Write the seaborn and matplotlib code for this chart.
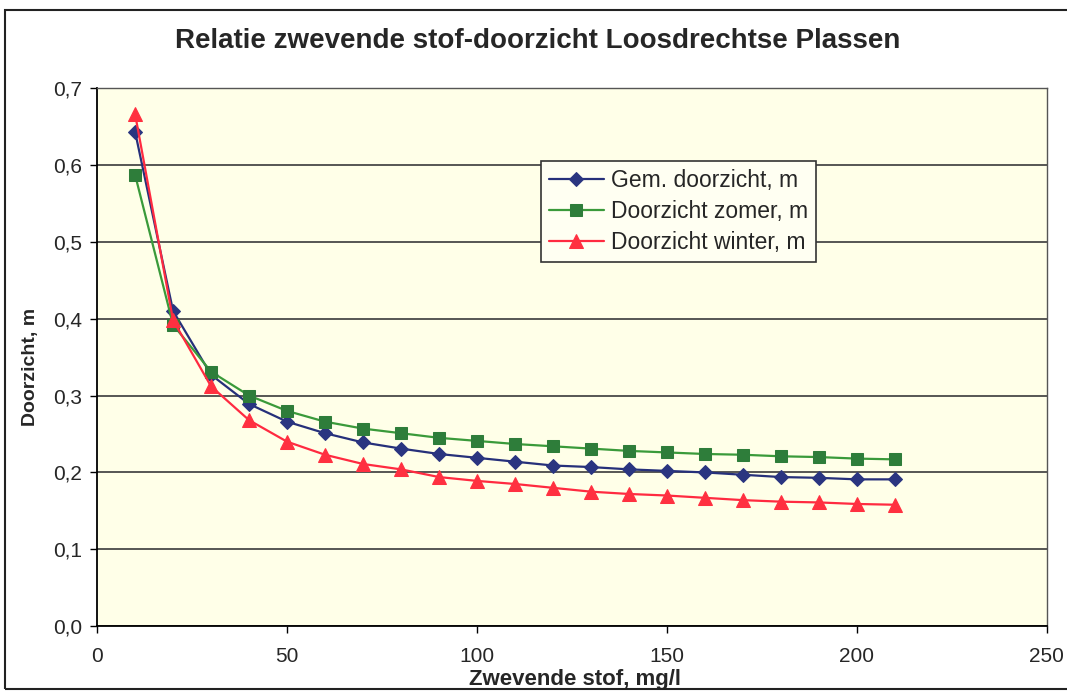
import pandas as pd
import numpy as np
import matplotlib
matplotlib.use('Agg')
import matplotlib.pyplot as plt
from matplotlib.patches import Rectangle
import seaborn as sns

# waarden
zwevende_stof = [10, 20, 30, 40, 50, 60, 70, 80, 90, 100, 110, 120, 130, 140, 150, 160, 170, 180, 190, 200, 210]
gem_doorzicht = [0.643, 0.410, 0.327, 0.289, 0.266, 0.251, 0.239, 0.231, 0.224, 0.219, 0.214, 0.209, 0.207, 0.204,
                 0.202, 0.200, 0.197, 0.194, 0.193, 0.191, 0.191]
doorzicht_zomer = [0.587, 0.392, 0.331, 0.300, 0.280, 0.266, 0.257, 0.251, 0.245, 0.241, 0.237, 0.234, 0.231, 0.228,
                   0.226, 0.224, 0.223, 0.221, 0.220, 0.218, 0.217]
doorzicht_winter = [0.666, 0.398, 0.312, 0.268, 0.240, 0.223, 0.211, 0.204, 0.194, 0.189, 0.185, 0.180, 0.175, 0.172,
                    0.170, 0.167, 0.164, 0.162, 0.161, 0.159, 0.158]
series_names = ['Gem. doorzicht, m', 'Doorzicht zomer, m', 'Doorzicht winter, m']
x_ticks = [0, 50, 100, 150, 200, 250]
y_ticks = [0.0, 0.1, 0.2, 0.3, 0.4, 0.5, 0.6, 0.7]

df = pd.DataFrame({'x': zwevende_stof * 3,
                   'y': gem_doorzicht + doorzicht_zomer + doorzicht_winter,
                   'serie': [s for s in series_names for _ in zwevende_stof]})

sns.set_style('white')
plt.rcParams['font.family'] = ['Liberation Sans', 'DejaVu Sans']

line_cols = {series_names[0]: '#26307a', series_names[1]: '#3a9a3a', series_names[2]: '#ff2a40'}
mark_cols = {series_names[0]: '#2a3580', series_names[1]: '#2e7d3a', series_names[2]: '#ff3040'}
markers = {series_names[0]: 'D', series_names[1]: 's', series_names[2]: '^'}
msizes = {series_names[0]: 7, series_names[1]: 8.5, series_names[2]: 10}

fig = plt.figure(figsize=(10.67, 6.92), dpi=100)
ax = fig.add_axes([0.091, 0.095, 0.890, 0.778])
ax.set_facecolor('#ffffe8')

for name in series_names:
    sub = df[df['serie'] == name]
    sns.lineplot(data=sub, x='x', y='y', ax=ax, color=line_cols[name], lw=1.6,
                 marker=markers[name], markersize=msizes[name], markerfacecolor=mark_cols[name],
                 markeredgecolor=mark_cols[name], label=name, zorder=3)

ax.set_xlim(0, 250)
ax.set_ylim(0, 0.7)
ax.set_xticks(x_ticks)
ax.set_yticks(y_ticks)
ax.set_xticklabels([str(t) for t in x_ticks])
ax.set_yticklabels([f'{t:.1f}'.replace('.', ',') for t in y_ticks])
ax.yaxis.grid(True, color='#3a3a3a', lw=1.2)
ax.set_axisbelow(True)
ax.tick_params(axis='both', labelsize=15, direction='out', length=5, width=1, color='black')
ax.tick_params(axis='x', pad=10, bottom=True)
ax.tick_params(axis='y', pad=6, left=True)

for side in ['left', 'bottom']:
    ax.spines[side].set_color('black')
    ax.spines[side].set_linewidth(1.3)
for side in ['top', 'right']:
    ax.spines[side].set_color('#555555')
    ax.spines[side].set_linewidth(1.0)

ax.set_xlabel('Zwevende stof, mg/l', fontsize=16, fontweight='bold')
ax.xaxis.set_label_coords(0.503, -0.08)
ax.set_ylabel('Doorzicht, m', fontsize=14, fontweight='bold')
ax.yaxis.set_label_coords(-0.061, 0.481)
fig.suptitle('Relatie zwevende stof-doorzicht Loosdrechtse Plassen', fontsize=20, fontweight='bold',
             x=0.504, y=0.96)

leg = ax.legend(loc='upper left', bbox_to_anchor=(0.455, 0.885), fontsize=16.5, frameon=True, fancybox=False,
                edgecolor='#333333', facecolor='#fffff2', framealpha=1, handlelength=2.4,
                borderpad=0.35, labelspacing=0.35, handletextpad=0.3)
leg.get_frame().set_linewidth(1.2)

# kader rond de hele grafiek
fig.patches.append(Rectangle((0.005, 0.005), 1.2, 0.98, transform=fig.transFigure, fill=False,
                             edgecolor='#222222', lw=1.5))

fig.savefig('out.png', dpi=100)
